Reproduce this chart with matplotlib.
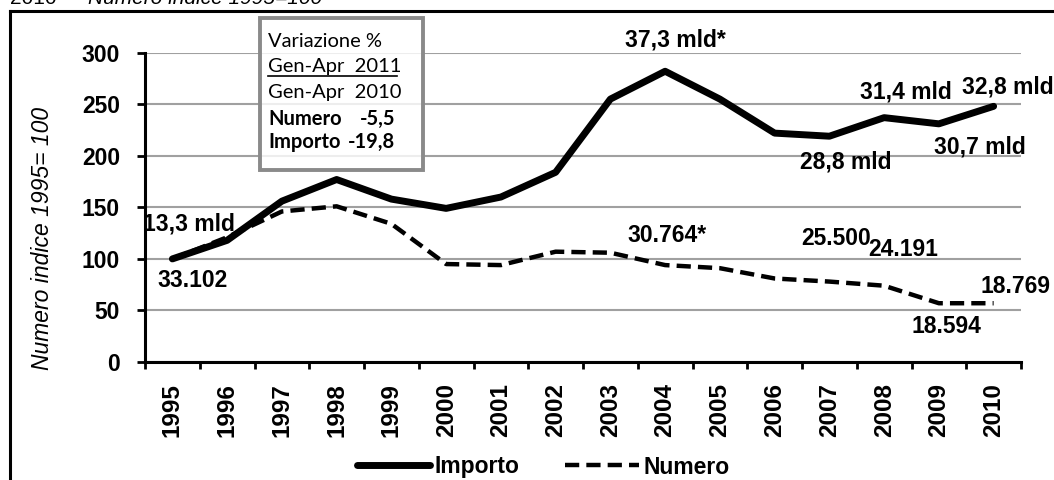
import matplotlib
matplotlib.use("Agg")
import matplotlib.pyplot as plt
from matplotlib.lines import Line2D
from matplotlib.patches import Rectangle

# ---- data ----
years = [str(y) for y in range(1995, 2011)]
importo = [100, 118, 156, 177, 158, 149, 160, 184, 255, 282, 255, 222, 219, 237, 231, 248]
numero = [100, 121, 146, 151, 134, 95, 94, 107, 106, 94, 91, 81, 78, 74, 57, 57]
yticks = [0, 50, 100, 150, 200, 250, 300]

# annotation labels: (text, x index, y value)
ann_text = ["13,3 mld", "33.102", "37,3 mld*", "31,4 mld", "32,8 mld", "28,8 mld",
            "30,7 mld", "30.764*", "25.500", "24.191", "18.769", "18.594"]
ann_x = [0.3, 0.37, 9.18, 13.39, 15.25, 12.3, 14.74, 9.03, 12.12, 13.35, 15.4, 14.14]
ann_y = [134, 79, 312, 262, 267, 194, 209, 123, 120, 109, 73, 34]

box_lines = ["Variazione %", "Gen-Apr  2011", "Gen-Apr  2010", "Numero", "Importo"]
box_values = ["", "", "", "-5,5", "-19,8"]

W, H = 1054, 480
plt.rcParams['font.family'] = ['Liberation Sans', 'DejaVu Sans']
fig = plt.figure(figsize=(W / 100, H / 100), dpi=100)

def fx(px):
    return px / W

def fy(py):
    return 1 - py / H

ax = fig.add_axes([fx(145), fy(362), fx(1021) - fx(145), fy(52.7) - fy(362)])
x = list(range(len(years)))

ax.plot(x, importo, color='black', lw=5, solid_capstyle='round', solid_joinstyle='round',
        label='Importo', zorder=3)
ax.plot(x, numero, color='black', lw=3.2, linestyle=(0, (3.2, 1.6)), dash_capstyle='butt',
        label='Numero', zorder=3)

ax.set_xlim(-0.5, len(years) - 0.5)
ax.set_ylim(0, 300)
ax.set_yticks(yticks)
ax.set_yticklabels([str(v) for v in yticks], fontsize=16.5, fontweight='bold')
ax.set_xticks(x)
ax.set_xticklabels(years, rotation=90, fontsize=17.5, fontweight='bold')
ax.set_xticks([i - 0.5 for i in range(len(years) + 1)], minor=True)
ax.tick_params(axis='x', which='major', length=0, pad=15)
ax.tick_params(axis='x', which='minor', length=5, width=2, direction='out')
ax.tick_params(axis='y', length=6, width=2, direction='out', pad=12)

ax.grid(axis='y', color='#a0a0a0', lw=1.5, zorder=0)
ax.set_axisbelow(True)
for s in ['top', 'right']:
    ax.spines[s].set_visible(False)
for s in ['left', 'bottom']:
    ax.spines[s].set_linewidth(2.2)

for t, xi, yi in zip(ann_text, ann_x, ann_y):
    ax.text(xi, yi, t, ha='center', va='center', fontsize=16.5, fontweight='bold',
            clip_on=False, zorder=5)

# y label
fig.text(fx(43), fy(238), "Numero indice 1995= 100", rotation=90, ha='center', va='center',
         fontsize=16.5, style='italic')

# top partial title (cut by the image edge, as in the reference)
fig.text(fx(10), fy(4), "2010 -", fontsize=15, va='baseline', ha='left')
fig.text(fx(88), fy(4), "Numero indice 1995=100", fontsize=15, va='baseline', ha='left',
         style='italic')

# outer frame (left and top edges)
fig.add_artist(Line2D([fx(9.5), fx(9.5)], [fy(11), fy(482)], color='black', lw=2.2,
                      transform=fig.transFigure))
fig.add_artist(Line2D([fx(9.5), fx(1056)], [fy(11), fy(11)], color='black', lw=2.2,
                      transform=fig.transFigure))

# info box
fig.add_artist(Rectangle((fx(260), fy(170)), fx(423) - fx(260), fy(18) - fy(170),
                         transform=fig.transFigure, facecolor=(1, 1, 1, 0.82),
                         edgecolor='#8a8a8a', lw=2.8, zorder=4))
baselines = [46.7, 71.7, 97.7, 125, 148.3]
for i, (lab, val, by) in enumerate(zip(box_lines, box_values, baselines)):
    bold = i >= 3
    fig.text(fx(268), fy(by), lab, fontsize=14.5, va='baseline', ha='left',
             family=['Lato', 'DejaVu Sans'], fontweight='bold' if bold else 'normal', zorder=6)
    if val:
        fig.text(fx(395), fy(by), val, fontsize=14.5, va='baseline', ha='right',
                 family=['Lato', 'DejaVu Sans'], fontweight='bold', zorder=6)
fig.add_artist(Line2D([fx(268), fx(397)], [fy(76), fy(76)], color='black', lw=1.2,
                      transform=fig.transFigure, zorder=6))

# legend
leg = fig.legend(loc='center', bbox_to_anchor=(fx(543), fy(467)), ncol=2, frameon=False,
                 prop={'size': 16.5, 'weight': 'bold'}, handlelength=3.2,
                 handletextpad=0.2, columnspacing=2.0, borderaxespad=0)

fig.savefig("out.png", dpi=100)
